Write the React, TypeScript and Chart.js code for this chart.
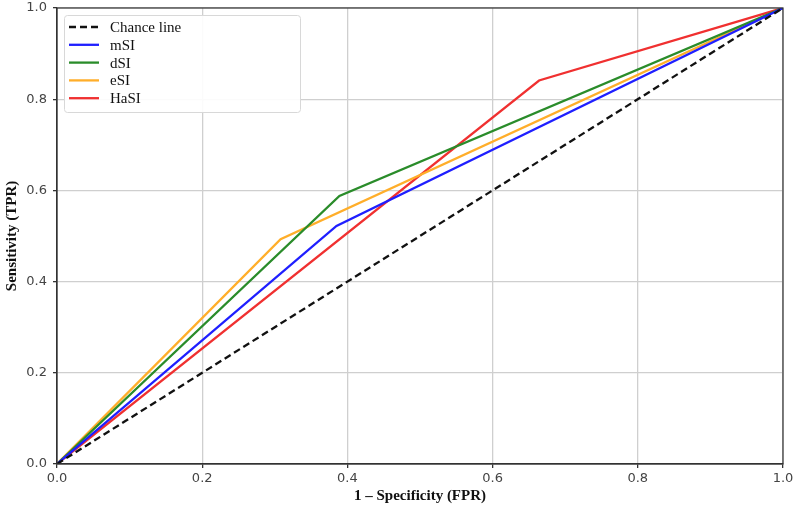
import React, { useEffect, useRef } from "react";
import { Chart, registerables } from "chart.js";

Chart.register(...registerables);

const seriesNames = ["Chance line", "mSI", "dSI", "eSI", "HaSI"];
const seriesColors = ["#111111", "#1f1fff", "#2a8c2a", "#ffae2a", "#f03030"];
const chanceX = [0, 1];
const chanceY = [0, 1];
const mSIX = [0, 0.385, 1];
const mSIY = [0, 0.522, 1];
const dSIX = [0, 0.389, 1];
const dSIY = [0, 0.588, 1];
const eSIX = [0, 0.308, 1];
const eSIY = [0, 0.493, 1];
const haSIX = [0, 0.664, 1];
const haSIY = [0, 0.841, 1];
const tickValues = [0, 0.2, 0.4, 0.6, 0.8, 1.0];

const toPts = (xs: number[], ys: number[]) => xs.map((x, i) => ({ x, y: ys[i] }));

const legendPlugin = {
  id: "customLegend",
  afterDraw(chart: any) {
    const ctx = chart.ctx;
    const ca = chart.chartArea;
    ctx.save();
    ctx.strokeStyle = "#333333";
    ctx.lineWidth = 1.2;
    ctx.strokeRect(ca.left, ca.top, ca.right - ca.left, ca.bottom - ca.top);
    ctx.restore();

    const bx = 64, by = 15, bw = 236, bh = 97;
    ctx.save();
    ctx.fillStyle = "rgba(255,255,255,0.9)";
    ctx.strokeStyle = "#d8d8d8";
    ctx.lineWidth = 1;
    ctx.beginPath();
    (ctx as any).roundRect(bx + 0.5, by + 0.5, bw, bh, 3);
    ctx.fill();
    ctx.stroke();
    ctx.font = "15px 'Liberation Serif', 'Times New Roman', serif";
    ctx.textBaseline = "middle";
    chart.data.datasets.forEach((ds: any, i: number) => {
      const y = 27 + i * 17.8;
      ctx.strokeStyle = ds.borderColor;
      ctx.lineWidth = 2.3;
      ctx.setLineDash(ds.borderDash || []);
      ctx.beginPath();
      ctx.moveTo(69, y);
      ctx.lineTo(99, y);
      ctx.stroke();
      ctx.setLineDash([]);
      ctx.fillStyle = "#111111";
      ctx.fillText(ds.label, 110, y + 1);
    });
    ctx.restore();
  },
};

export default function App() {
  const ref = useRef<HTMLCanvasElement>(null);
  useEffect(() => {
    document.body.style.margin = "0";
    const xs = [chanceX, mSIX, dSIX, eSIX, haSIX];
    const ys = [chanceY, mSIY, dSIY, eSIY, haSIY];
    const datasets = seriesNames.map((name, i) => ({
      label: name,
      data: toPts(xs[i], ys[i]),
      borderColor: seriesColors[i],
      backgroundColor: seriesColors[i],
      borderWidth: 2.3,
      borderDash: i === 0 ? [7, 4] : [],
      pointRadius: 0,
      tension: 0,
      fill: false,
    }));
    const chart = new Chart(ref.current as HTMLCanvasElement, {
      type: "line",
      data: { datasets },
      plugins: [legendPlugin],
      options: {
        animation: false,
        responsive: false,
        layout: { padding: { top: 8, right: 14, left: 0, bottom: 0 } },
        plugins: { legend: { display: false }, tooltip: { enabled: false } },
        scales: {
          x: {
            type: "linear",
            min: 0,
            max: 1,
            afterBuildTicks: (s: any) => {
              s.ticks = tickValues.map((v) => ({ value: v }));
            },
            afterFit: (s: any) => {
              s.height = 43;
              s.paddingLeft = 0;
              s.paddingRight = 0;
            },
            grid: { color: "#cfcfcf", lineWidth: 1.3, tickLength: 4, tickColor: "#333333" },
            border: { display: true, color: "#333333", width: 1.2 },
            ticks: {
              color: "#444444",
              padding: 3,
              font: { family: "'DejaVu Sans', sans-serif", size: 13 },
              callback: (v: any) => Number(v).toFixed(1),
            },
            title: {
              display: true,
              text: "1 – Specificity (FPR)",
              color: "#111111",
              padding: { top: 0, bottom: 2 },
              font: { family: "'Liberation Serif', 'Times New Roman', serif", size: 15, weight: "bold" },
            },
          },
          y: {
            type: "linear",
            min: 0,
            max: 1,
            afterBuildTicks: (s: any) => {
              s.ticks = tickValues.map((v) => ({ value: v }));
            },
            afterFit: (s: any) => {
              s.width = 57;
              s.paddingTop = 0;
              s.paddingBottom = 0;
            },
            grid: { color: "#cfcfcf", lineWidth: 1.3, tickLength: 4, tickColor: "#333333" },
            border: { display: true, color: "#333333", width: 1.2 },
            ticks: {
              color: "#444444",
              padding: 6,
              font: { family: "'DejaVu Sans', sans-serif", size: 13 },
              callback: (v: any) => Number(v).toFixed(1),
            },
            title: {
              display: true,
              text: "Sensitivity (TPR)",
              color: "#111111",
              padding: { top: 3, bottom: 0 },
              font: { family: "'Liberation Serif', 'Times New Roman', serif", size: 15, weight: "bold" },
            },
          },
        },
      } as any,
    });
    return () => chart.destroy();
  }, []);
  return (
    <div style={{ width: 797, height: 507 }}>
      <canvas ref={ref} width={797} height={507} style={{ display: "block" }} />
    </div>
  );
}
